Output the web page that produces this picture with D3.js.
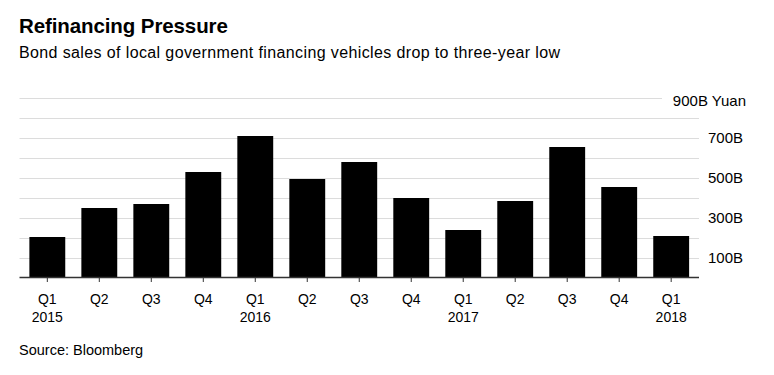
<!DOCTYPE html>
<html>
<head>
<meta charset="utf-8">
<script src="https://cdn.jsdelivr.net/npm/d3@7"></script>
<style>
  body { margin: 0; background: #fff; }
  text { font-family: "Liberation Sans", Arial, sans-serif; fill: #000; }
</style>
</head>
<body>
<div id="chart"></div>
<script>
// data (billion yuan)
var quarters = ["Q1", "Q2", "Q3", "Q4", "Q1", "Q2", "Q3", "Q4", "Q1", "Q2", "Q3", "Q4", "Q1"];
var years = ["2015", "", "", "", "2016", "", "", "", "2017", "", "", "", "2018"];
var sales = [205, 350, 370, 530, 710, 495, 580, 400, 240, 385, 655, 455, 210];
var gridValues = [100, 200, 300, 400, 500, 600, 700, 800, 900];
var tickLabels = ["100B", "300B", "500B", "700B", "900B Yuan"];
var tickLabelValues = [100, 300, 500, 700, 900];

var w = 774;
var h = 375;

var svg = d3.select("#chart")
    .append("svg")
    .attr("width", w)
    .attr("height", h);

// title + subtitle
svg.append("text")
    .attr("x", 19)
    .attr("y", 33)
    .attr("font-size", "20.5px")
    .attr("font-weight", "bold")
    .attr("letter-spacing", "-0.1px")
    .text("Refinancing Pressure");

svg.append("text")
    .attr("x", 19)
    .attr("y", 58)
    .attr("font-size", "16px")
    .attr("letter-spacing", "0.38px")
    .text("Bond sales of local government financing vehicles drop to three-year low");

var idx = d3.range(sales.length);

var x = d3.scaleBand()
    .domain(idx)
    .range([19.5, 699])
    .paddingInner(0.31)
    .paddingOuter(0.19);

var y = d3.scaleLinear()
    .domain([0, 900])
    .range([278, 98]);

// gridlines
svg.selectAll("line.grid")
    .data(gridValues)
    .enter()
    .append("line")
    .attr("class", "grid")
    .attr("x1", 19.5)
    .attr("x2", function (d) { return d == 900 ? 662 : 699; })
    .attr("y1", function (d) { return y(d) + 0.5; })
    .attr("y2", function (d) { return y(d) + 0.5; })
    .attr("stroke", "#dcdcdc")
    .attr("stroke-width", 1);

// y labels
svg.selectAll("text.ylab")
    .data(tickLabelValues)
    .enter()
    .append("text")
    .attr("class", "ylab")
    .attr("x", function (d) { return d == 900 ? 746 : 708; })
    .attr("y", function (d) { return d == 900 ? y(d) + 8 : y(d) + 4.5; })
    .attr("text-anchor", function (d) { return d == 900 ? "end" : "start"; })
    .attr("font-size", "15px")
    .text(function (d, i) { return tickLabels[i]; });

// bars
svg.selectAll("rect.bar")
    .data(sales)
    .enter()
    .append("rect")
    .attr("class", "bar")
    .attr("x", function (d, i) { return x(i); })
    .attr("width", x.bandwidth())
    .attr("y", function (d) { return y(d); })
    .attr("height", function (d) { return y(0) - y(d); })
    .attr("fill", "#000");

// baseline
svg.append("line")
    .attr("x1", 19.5)
    .attr("x2", 699)
    .attr("y1", y(0) - 0.5)
    .attr("y2", y(0) - 0.5)
    .attr("stroke", "#333")
    .attr("stroke-width", 1.5);

// x axis ticks and labels
var xAxis = svg.append("g")
    .attr("transform", "translate(0," + y(0) + ")")
    .call(d3.axisBottom(x).tickSize(4).tickPadding(12).tickFormat(function (i) { return quarters[i]; }));

xAxis.select(".domain").remove();
xAxis.selectAll(".tick line").attr("stroke", "#333");
xAxis.selectAll(".tick text")
    .attr("font-size", "14px")
    .attr("font-family", "Liberation Sans, Arial, sans-serif")
    .attr("fill", "#000");

xAxis.selectAll(".tick")
    .append("text")
    .attr("y", 43.5)
    .attr("text-anchor", "middle")
    .attr("font-size", "14px")
    .attr("fill", "#000")
    .text(function (i) { return years[i]; });

svg.append("text")
    .attr("x", 19)
    .attr("y", 355)
    .attr("font-size", "14.5px")
    .text("Source: Bloomberg");
</script>
</body>
</html>
